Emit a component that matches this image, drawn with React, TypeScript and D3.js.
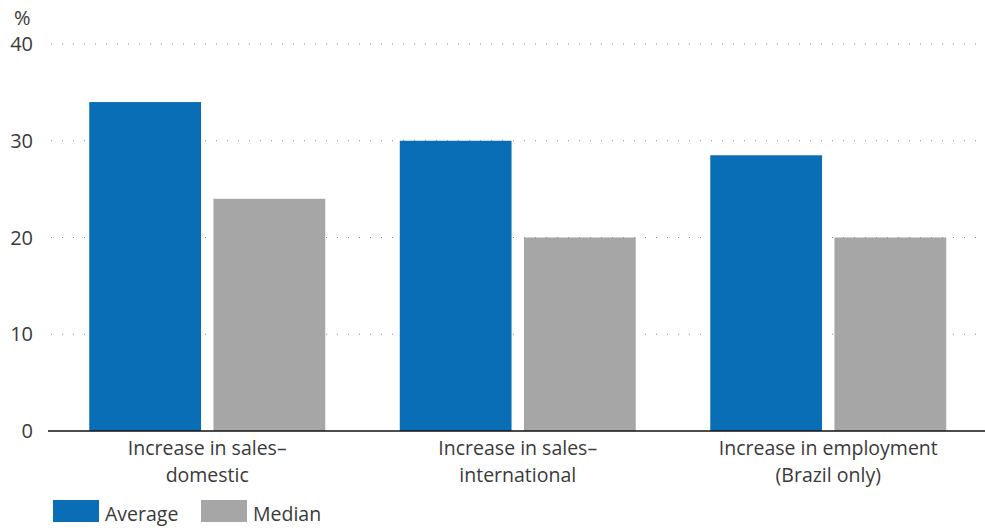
import React from "react";
import * as d3 from "d3";

const categories = [
  ["Increase in sales–", "domestic"],
  ["Increase in sales–", "international"],
  ["Increase in employment", "(Brazil only)"],
];
const seriesNames = ["Average", "Median"];
const averageValues = [34, 30, 28.5];
const medianValues = [24, 20, 20];
const yTicks = [0, 10, 20, 30, 40];
const colors = ["#0a6eb6", "#a6a6a6"];

export default function App() {
  const W = 985, H = 528;
  const left = 48, right = 985;
  const y = d3.scaleLinear().domain([0, 40]).range([431, 44]);
  const x0 = d3
    .scaleBand<number>()
    .domain(categories.map((_, i) => i))
    .range([52, 983.5])
    .paddingInner(0.24)
    .paddingOuter(0.12);
  const x1 = d3
    .scaleBand<number>()
    .domain([0, 1])
    .range([0, x0.bandwidth()])
    .paddingInner(0.1);
  const data = [averageValues, medianValues];
  const font = "'Open Sans', 'Noto Sans', sans-serif";
  const textColor = "#3a3a3a";
  return (
    <svg width={W} height={H} style={{ position: "absolute", left: 0, top: 0, fontFamily: font }}>
      {yTicks.filter((t) => t > 0).map((t) => (
        <line key={t} x1={51} x2={right} y1={y(t)} y2={y(t)} stroke="#888" strokeWidth={1} strokeDasharray="1,10" />
      ))}
      {categories.map((_, ci) =>
        data.map((vals, si) => (
          <rect
            key={`${ci}-${si}`}
            x={(x0(ci) as number) + (x1(si) as number)}
            y={y(vals[ci])}
            width={x1.bandwidth()}
            height={y(0) - y(vals[ci])}
            fill={colors[si]}
          />
        ))
      )}
      <line x1={left} x2={right} y1={y(0)} y2={y(0)} stroke="#111" strokeWidth={1.5} />
      {yTicks.map((t) => (
        <text key={t} x={33} y={y(t) + 7} textAnchor="end" fontSize={20} fill={textColor}>
          {t}
        </text>
      ))}
      <text x={14} y={25} fontSize={20} fill={textColor}>%</text>
      {categories.map((lines, ci) => (
        <text key={ci} textAnchor="middle" fontSize={19.5} fill={textColor}>
          {lines.map((l, li) => (
            <tspan key={li} x={(x0(ci) as number) + x0.bandwidth() / 2} y={455 + li * 27}>
              {l}
            </tspan>
          ))}
        </text>
      ))}
      {seriesNames.map((s, i) => (
        <g key={s} transform={`translate(${53 + i * 148},500)`}>
          <rect width={46} height={22} fill={colors[i]} />
          <text x={52} y={21} fontSize={19.5} fill={textColor}>{s}</text>
        </g>
      ))}
    </svg>
  );
}
